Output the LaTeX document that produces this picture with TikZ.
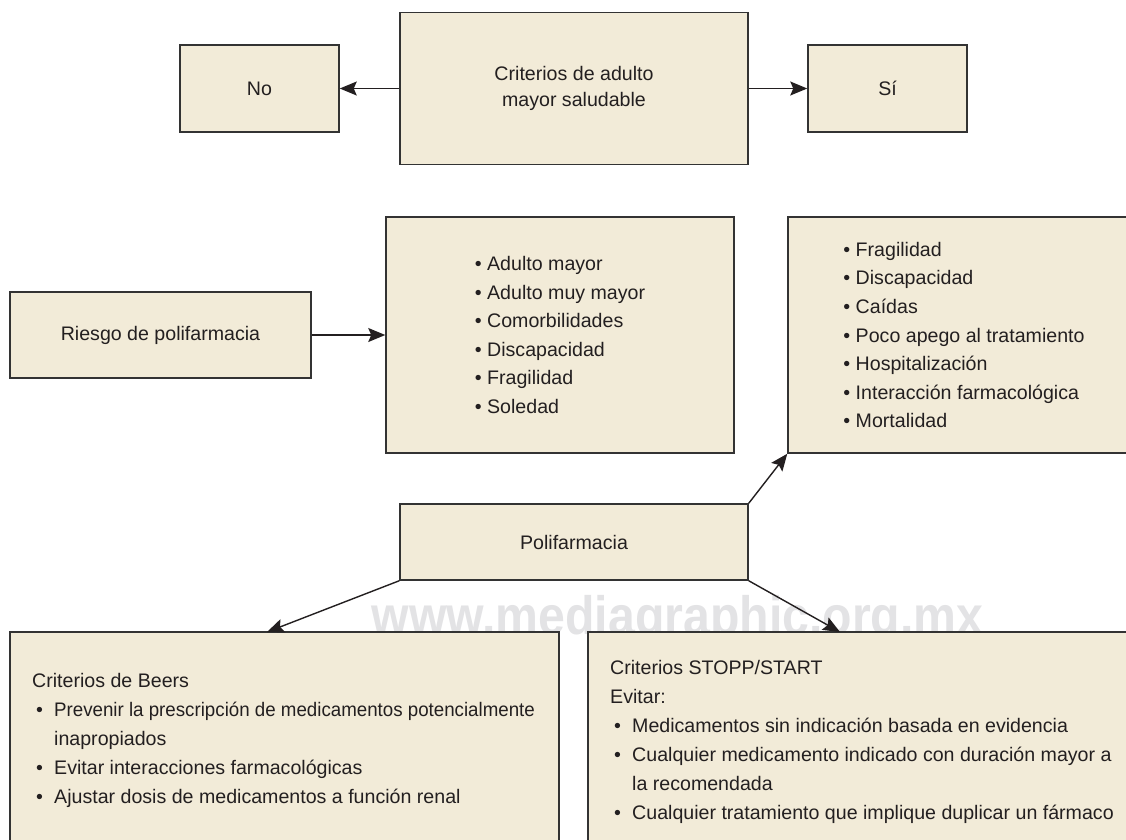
\documentclass[tikz,border=0pt]{standalone}
\usepackage{fontspec}
\usepackage{graphicx}
\setmainfont{Liberation Sans}
\usetikzlibrary{arrows.meta}
\definecolor{boxfill}{HTML}{F2EBD8}
\definecolor{boxline}{HTML}{333333}
\definecolor{txt}{HTML}{231F20}
\definecolor{wmark}{HTML}{E3E3E5}
\begin{document}
\begin{tikzpicture}[x=1pt,y=-1pt,
 box/.style={draw=boxline, fill=boxfill, line width=1.5pt, inner sep=0pt, text=txt,
   font=\fontsize{19.6}{28.6}\selectfont, align=center},
 listbox/.style={box, align=left},
 arr/.style={draw=txt, line width=1.4pt, -{Stealth[length=17pt,width=14pt,inset=3pt]}},
 blocktxt/.style={anchor=north west, inner sep=0pt, text=txt, align=left,
   font=\fontsize{19.6}{29}\selectfont},
 wm/.style={text=wmark, font=\fontsize{54}{54}\selectfont\bfseries, anchor=base, inner sep=0pt, xscale=0.893}]
\useasboundingbox (0,0) rectangle (1126,839);
\clip (0,0) rectangle (1126,839);
\fill[white] (0,0) rectangle (1126,839);
% top row
\node[box, minimum width=159pt, minimum height=87pt] (no) at (259.5,88.5) {No};
\node[box, minimum width=348pt, minimum height=152pt] (crit) at (574,88.5) {Criterios de adulto\\[-2.6pt]mayor saludable};
\node[box, minimum width=159pt, minimum height=87pt] (si) at (887.5,88.5) {Sí};
\draw[arr] (crit.west) -- (no.east);
\draw[arr] (crit.east) -- (si.west);
% middle row
\node[box, minimum width=301pt, minimum height=86pt] (riesgo) at (160.5,335) {Riesgo de polifarmacia};
\node[listbox, minimum width=348pt, minimum height=236pt] (factores) at (560,335)
 {• Adulto mayor\\• Adulto muy mayor\\• Comorbilidades\\• Discapacidad\\• Fragilidad\\• Soledad};
\node[listbox, minimum width=352pt, minimum height=236pt] (conseq) at (964,335)
 {• Fragilidad\\• Discapacidad\\• Caídas\\• Poco apego al tratamiento\\• Hospitalización\\• Interacción farmacológica\\• Mortalidad};
\draw[arr] (riesgo.east) -- (factores.west);
% polifarmacia
\node[box, minimum width=348pt, minimum height=76pt] (poli) at (574,542) {Polifarmacia};
% watermark
\node[wm] (wmk) at (677.5,634) {www.mediagraphic.org.mx};
\draw[arr] (poli.north east) -- (conseq.south west);
% bottom boxes
\node[box, minimum width=549pt, minimum height=228pt] (beers) at (284.5,746) {};
\node[box, minimum width=552pt, minimum height=228pt] (stopp) at (864,746) {};
\coordinate (beersin) at (267,632);
\coordinate (stoppin) at (840,632);
\draw[arr] (poli.south west) -- (beersin);
\draw[arr] (poli.south east) -- (stoppin);
\node[blocktxt] (beerstxt) at (32,673)
 {Criterios de Beers\\
  \makebox[22pt][l]{\hspace{4pt}•}\scalebox{0.955}[1]{Prevenir la prescripción de medicamentos potencialmente}\\
  \hspace*{22pt}inapropiados\\
  \makebox[22pt][l]{\hspace{4pt}•}Evitar interacciones farmacológicas\\
  \makebox[22pt][l]{\hspace{4pt}•}Ajustar dosis de medicamentos a función renal};
\node[blocktxt] (stopptxt) at (610,660)
 {Criterios STOPP/START\\
  Evitar:\\
  \makebox[22pt][l]{\hspace{4pt}•}Medicamentos sin indicación basada en evidencia\\
  \makebox[22pt][l]{\hspace{4pt}•}Cualquier medicamento indicado con duración mayor a\\
  \hspace*{22pt}la recomendada\\
  \makebox[22pt][l]{\hspace{4pt}•}Cualquier tratamiento que implique duplicar un fármaco};
\end{tikzpicture}
\end{document}
